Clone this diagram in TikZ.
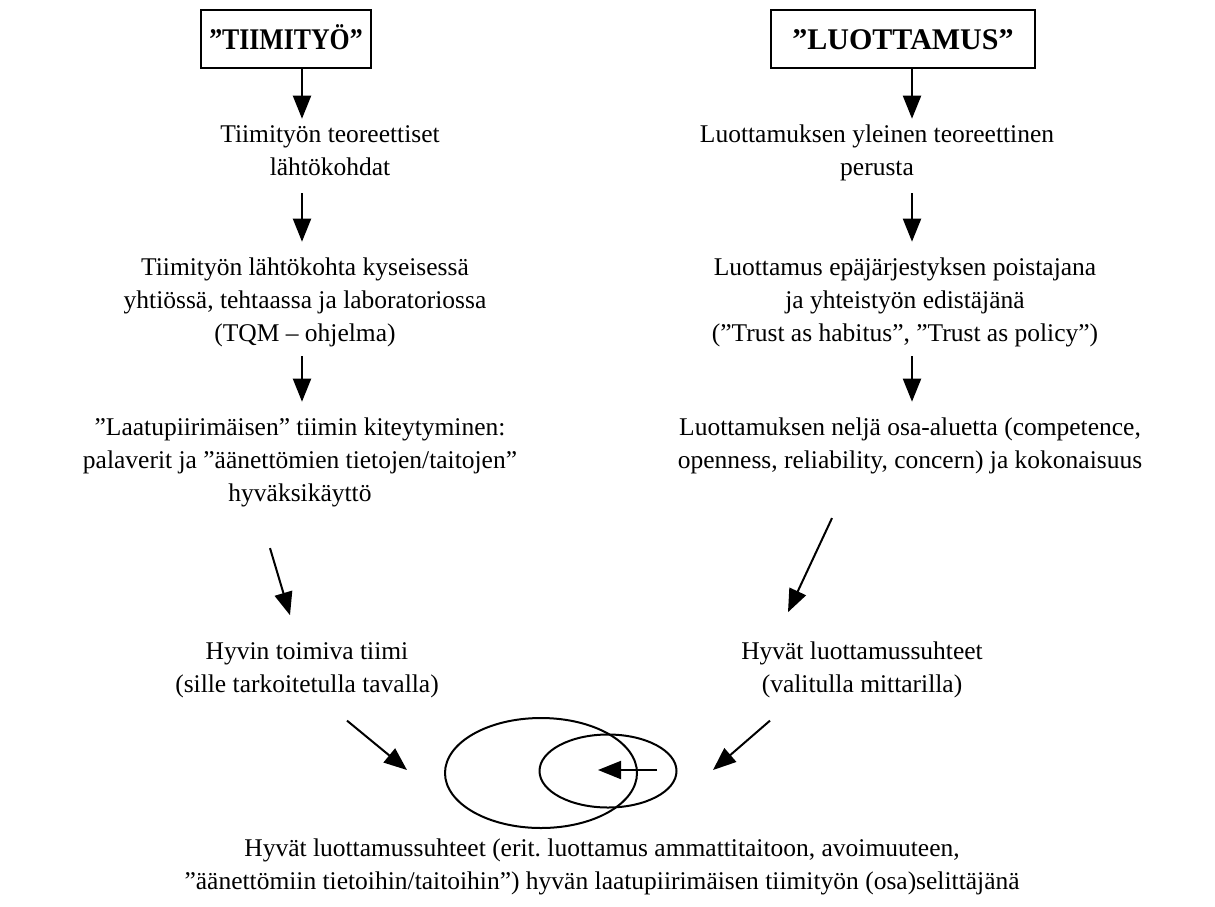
\documentclass[tikz,border=0pt]{standalone}
\usepackage{fontspec}
\setmainfont{Liberation Serif}
\usetikzlibrary{arrows.meta,shapes.geometric}
\frenchspacing
\begin{document}
\begin{tikzpicture}[x=1pt,y=-1pt,
  txt/.style={align=center, inner sep=0pt, font=\fontsize{25.5}{33}\selectfont},
  ttl/.style={draw, line width=1.6pt, inner sep=0pt, text height=20pt, text depth=0pt, font=\bfseries\fontsize{30}{34}\selectfont},
  arr/.style={line width=2pt, -{Triangle[length=23pt,width=18pt]}},
  ell/.style={draw, ellipse, line width=2pt, inner sep=0pt}]
\useasboundingbox (0,0) rectangle (1215,906);
\coordinate (lx) at (302,0);
\coordinate (rx) at (912,0);
% titles
\node[ttl, minimum width=170pt, minimum height=58pt] (box1) at (286,39) {\scalebox{0.86}[1]{”TIIMITYÖ”}};
\node[ttl, minimum width=264pt, minimum height=58pt] (box2) at (903,39) {”LUOTTAMUS”};
% left column
\node[txt] (t1) at (330,151.9) {\strut Tiimityön teoreettiset\\lähtökohdat\strut};
\node[txt] (t2) at (305,301.4) {\strut Tiimityön lähtökohta kyseisessä\\yhtiössä, tehtaassa ja laboratoriossa\\(TQM – ohjelma)\strut};
\node[txt] (t3) at (300,461.4) {\strut ”Laatupiirimäisen” tiimin kiteytyminen:\\palaverit ja ”äänettömien tietojen/taitojen”\\hyväksikäyttö\strut};
\node[txt] (t4) at (307,669.4) {\strut Hyvin toimiva tiimi\\(sille tarkoitetulla tavalla)\strut};
% right column
\node[txt] (r1) at (877,151.9) {\strut Luottamuksen yleinen teoreettinen\\perusta\strut};
\node[txt] (r2) at (905,301.4) {\strut Luottamus epäjärjestyksen poistajana\\ja yhteistyön edistäjänä\\(”Trust as habitus”, ”Trust as policy”)\strut};
\node[txt] (r3) at (910,444.9) {\strut Luottamuksen neljä osa-aluetta (competence,\\openness, reliability, concern) ja kokonaisuus\strut};
\node[txt] (r4) at (862,669.4) {\strut Hyvät luottamussuhteet\\(valitulla mittarilla)\strut};
% bottom
\node[txt] (b) at (602,866.4) {\strut Hyvät luottamussuhteet (erit. luottamus ammattitaitoon, avoimuuteen,\\”äänettömiin tietoihin/taitoihin”) hyvän laatupiirimäisen tiimityön (osa)selittäjänä\strut};
% ellipses
\node[ell, minimum width=192pt, minimum height=110pt] (e1) at (541,773) {};
\node[ell, minimum width=137pt, minimum height=73pt] (e2) at (608,771) {};
\coordinate (la) at (407,770);
\coordinate (ra) at (713,770);
\coordinate (ia) at (657,770);
\coordinate (ib) at (598,770);
% left arrows
\draw[arr] (box1.south -| lx) -- (t1.north -| lx);
\draw[arr] ([yshift=-8pt]t1.south -| lx) -- ([yshift=10pt]t2.north -| lx);
\draw[arr] ([yshift=-5pt]t2.south -| lx) -- ([yshift=10pt]t3.north -| lx);
\draw[arr] ([xshift=-30pt,yshift=-37pt]t3.south) -- ([xshift=-17pt,yshift=21pt]t4.north);
\draw[arr] ([xshift=40pt,yshift=-18pt]t4.south) -- (la);
% right arrows
\draw[arr] (box2.south -| rx) -- (r1.north -| rx);
\draw[arr] ([yshift=-8pt]r1.south -| rx) -- ([yshift=10pt]r2.north -| rx);
\draw[arr] ([yshift=-5pt]r2.south -| rx) -- ([yshift=10pt]r3.north -| rx);
\draw[arr] ([xshift=-78pt,yshift=-40pt]r3.south) -- ([xshift=-74pt,yshift=24pt]r4.north);
\draw[arr] ([xshift=-92pt,yshift=-18pt]r4.south) -- (ra);
% inner arrow
\draw[arr] (ia) -- (ib);
\end{tikzpicture}
\end{document}
